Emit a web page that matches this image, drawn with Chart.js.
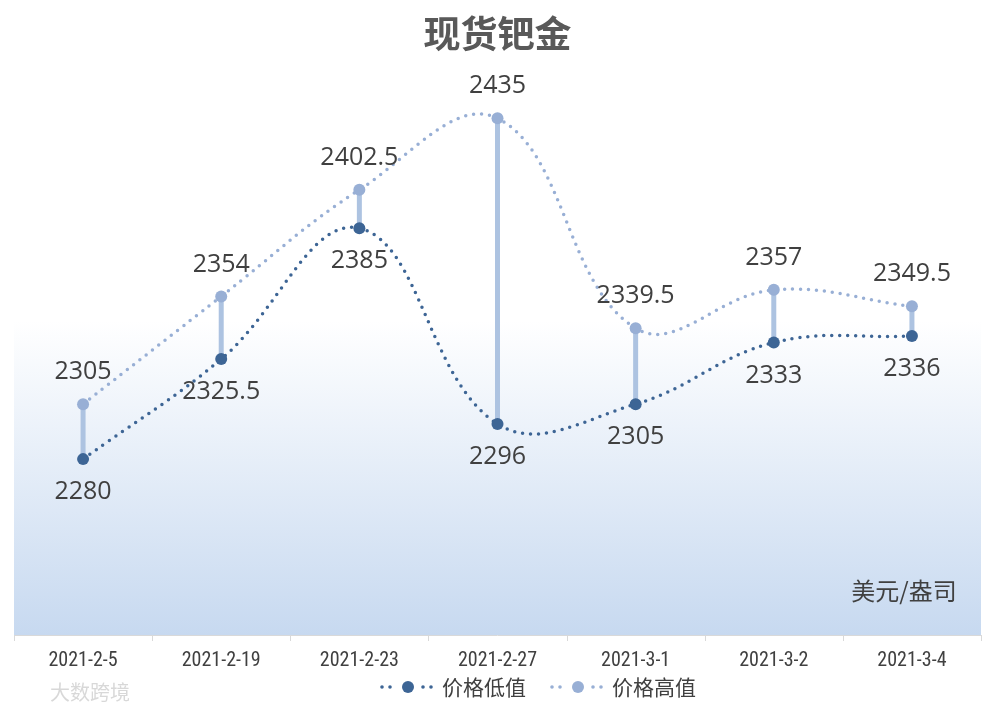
<!DOCTYPE html>
<html>
<head>
<meta charset="utf-8">
<script src="https://cdn.jsdelivr.net/npm/chart.js@4/dist/chart.umd.min.js"></script>
<style>
  html, body { margin: 0; padding: 0; background: #fff; }
  #wrap { width: 994px; height: 712px; position: relative; }
</style>
</head>
<body>
<div id="wrap"><canvas id="myChart" width="994" height="712"></canvas></div>
<script>
var categories = ['2021-2-5', '2021-2-19', '2021-2-23', '2021-2-27', '2021-3-1', '2021-3-2', '2021-3-4'];
var lowValues = [2280, 2325.5, 2385, 2296, 2305, 2333, 2336];
var highValues = [2305, 2354, 2402.5, 2435, 2339.5, 2357, 2349.5];
var seriesNames = ['价格低值', '价格高值'];

var lowColor = '#3d6595';
var highColor = '#98afd5';
var textColor = '#404040';
var fontCJK = '"Microsoft YaHei", "Noto Sans CJK SC", sans-serif';
var fontNum = '"Open Sans", "Noto Sans", sans-serif';
var fontTick = '"Liberation Sans Narrow", "Roboto Condensed", "Liberation Sans", sans-serif';

// plot area bounds taken from the category scale
function plotBounds(chart) {
    var x = chart.scales.x;
    var step = x.getPixelForValue(1) - x.getPixelForValue(0);
    return {
        left: x.getPixelForValue(0) - step / 2,
        right: x.getPixelForValue(categories.length - 1) + step / 2,
        step: step
    };
}

// plot area gradient background + axis line
var bgPlugin = {
    id: 'bg',
    beforeDraw: function(chart) {
        var ctx = chart.ctx, a = chart.chartArea, b = plotBounds(chart);
        var g = ctx.createLinearGradient(0, a.top, 0, a.bottom);
        g.addColorStop(0, '#ffffff');
        g.addColorStop(0.45, '#ffffff');
        g.addColorStop(1, '#c7d9f0');
        ctx.save();
        ctx.fillStyle = g;
        ctx.fillRect(b.left, a.top, b.right - b.left, a.bottom - a.top);
        ctx.strokeStyle = '#d9d9d9';
        ctx.lineWidth = 1;
        ctx.beginPath();
        ctx.moveTo(b.left, a.bottom + 0.5);
        ctx.lineTo(b.right, a.bottom + 0.5);
        for (var i = 0; i <= categories.length; i++) {
            var tx = Math.round(b.left + i * b.step) + 0.5;
            ctx.moveTo(tx, a.bottom);
            ctx.lineTo(tx, a.bottom + 6);
        }
        ctx.stroke();
        ctx.restore();
    }
};

// vertical high-low lines
var hiLoPlugin = {
    id: 'hilo',
    beforeDatasetsDraw: function(chart) {
        var ctx = chart.ctx;
        var lo = chart.getDatasetMeta(0).data, hi = chart.getDatasetMeta(1).data;
        ctx.save();
        ctx.strokeStyle = '#adc3e1';
        ctx.lineWidth = 5;
        for (var i = 0; i < lo.length; i++) {
            ctx.beginPath();
            ctx.moveTo(lo[i].x, lo[i].y);
            ctx.lineTo(hi[i].x, hi[i].y);
            ctx.stroke();
        }
        ctx.restore();
    }
};

// value labels, unit text, custom legend, watermark
var labelPlugin = {
    id: 'labels',
    afterDraw: function(chart) {
        var ctx = chart.ctx;
        ctx.save();
        ctx.font = '25px ' + fontNum;
        ctx.fillStyle = textColor;
        ctx.textAlign = 'center';
        ctx.textBaseline = 'middle';
        chart.getDatasetMeta(0).data.forEach(function(p, i) {
            ctx.fillText(String(lowValues[i]), p.x, p.y + 33);
        });
        chart.getDatasetMeta(1).data.forEach(function(p, i) {
            ctx.fillText(String(highValues[i]), p.x, p.y - 32);
        });

        ctx.font = '24px ' + fontCJK;
        ctx.fillText('美元/盎司', 904, 591);

        // legend
        var items = [[lowColor, seriesNames[0], 382], [highColor, seriesNames[1], 552]];
        items.forEach(function(it) {
            var x0 = it[2], y = 687;
            ctx.fillStyle = it[0];
            [0, 8, 41, 49].forEach(function(dx) {
                ctx.beginPath();
                ctx.arc(x0 + dx, y, 1.8, 0, Math.PI * 2);
                ctx.fill();
            });
            ctx.beginPath();
            ctx.arc(x0 + 26, y, 6, 0, Math.PI * 2);
            ctx.fill();
            ctx.fillStyle = textColor;
            ctx.textAlign = 'left';
            ctx.font = '21px ' + fontCJK;
            ctx.fillText(it[1], x0 + 60, y);
        });

        // watermark
        ctx.fillStyle = 'rgba(190,190,190,0.6)';
        ctx.font = '20px ' + fontCJK;
        ctx.fillText('大数跨境', 50, 692);
        ctx.restore();
    }
};

var ctx = document.getElementById('myChart').getContext('2d');
var chart = new Chart(ctx, {
    type: 'line',
    data: {
        labels: categories,
        datasets: [{
            label: seriesNames[0],
            data: lowValues,
            borderColor: lowColor,
            backgroundColor: lowColor,
            borderWidth: 3.5,
            borderDash: [0, 8],
            borderCapStyle: 'round',
            tension: 0.4,
            pointRadius: 6,
            pointBackgroundColor: lowColor,
            pointBorderWidth: 0
        }, {
            label: seriesNames[1],
            data: highValues,
            borderColor: highColor,
            backgroundColor: highColor,
            borderWidth: 3.5,
            borderDash: [0, 8],
            borderCapStyle: 'round',
            tension: 0.4,
            pointRadius: 6,
            pointBackgroundColor: highColor,
            pointBorderWidth: 0
        }]
    },
    plugins: [bgPlugin, hiLoPlugin, labelPlugin],
    options: {
        responsive: false,
        animation: false,
        layout: { padding: { left: 14, right: 13, top: 0, bottom: 25 } },
        plugins: {
            legend: { display: false },
            tooltip: { enabled: false },
            title: {
                display: true,
                text: '现货钯金',
                color: '#595959',
                font: { size: 37, weight: 'bold', family: fontCJK },
                padding: { top: 12, bottom: 7 }
            }
        },
        scales: {
            x: {
                offset: true,
                grid: { display: false, drawTicks: false },
                border: { display: false },
                ticks: { color: textColor, font: { size: 20, family: fontTick }, padding: 14, maxRotation: 0 }
            },
            y: {
                display: false,
                min: 2200,
                max: 2460
            }
        }
    }
});
</script>
</body>
</html>
